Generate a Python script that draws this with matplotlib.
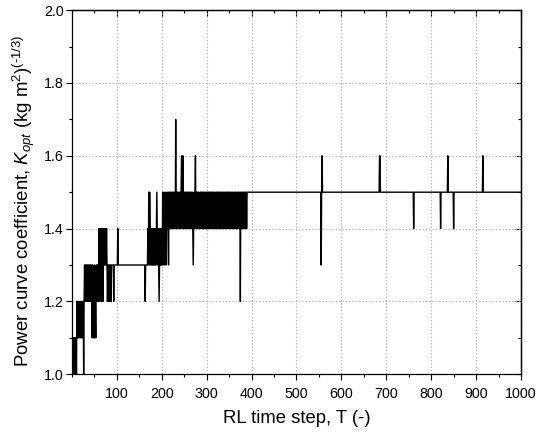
import numpy as np
import matplotlib
matplotlib.use("Agg")
import matplotlib.pyplot as plt
from matplotlib.ticker import MultipleLocator, FixedLocator

plt.rcParams["font.family"] = ["Liberation Sans", "DejaVu Sans"]
plt.rcParams["mathtext.fontset"] = "custom"
plt.rcParams["mathtext.rm"] = "Liberation Sans"
plt.rcParams["mathtext.it"] = "Liberation Sans:italic"

# K_opt per RL time step during learning, written as tenths above 1.0
# (one digit per step, steps 1..400)
k_early = (
    "0101101010" "2121212121" "2121202323" "2323232323"
    "2323131213" "1213232324" "2434243423" "4343434323"
    "2323232333" "3323333333" "3433333333" "3333333333"
    "3333333333" "3333333333" "3333333333" "3333333333"
    "3323333343" "5354343434" "3434343454" "3432343434"
    "3543543543" "4545354545" "4545454544" "7454545454"
    "5456546545" "4545454545" "4545454543" "4545645454"
    "5454455454" "5454545445" "4545454554" "5454545454"
    "4554545454" "5454545445" "4545454554" "5454545454"
    "4545544545" "4545254545" "4545454545" "5555555555"
)
# converged value afterwards, with occasional exploratory deviations
k_final = 1.5
n_steps = 1000
late_deviations = {555: 1.3, 557: 1.6, 685: 1.6, 686: 1.6,
                   761: 1.4, 821: 1.4, 837: 1.6, 850: 1.4, 915: 1.6}

x_ticks = [100, 200, 300, 400, 500, 600, 700, 800, 900, 1000]
y_ticks = [1.0, 1.2, 1.4, 1.6, 1.8, 2.0]

steps = np.arange(1, n_steps + 1)
k_opt = np.full(n_steps, k_final)
k_opt[:len(k_early)] = [1.0 + int(c) / 10 for c in k_early]
for t, v in late_deviations.items():
    k_opt[t - 1] = v

fig = plt.figure(figsize=(5.55, 4.37), dpi=100)
ax = fig.add_axes([0.1297, 0.1437, 0.8090, 0.8330])

ax.plot(steps, k_opt, color="black", lw=1.0)

ax.set_xlim(0, 1000)
ax.set_ylim(1.0, 2.0)
ax.xaxis.set_major_locator(FixedLocator(x_ticks))
ax.xaxis.set_minor_locator(MultipleLocator(50))
ax.yaxis.set_major_locator(FixedLocator(y_ticks))
ax.yaxis.set_minor_locator(MultipleLocator(0.1))
ax.set_yticklabels([f"{v:.1f}" for v in y_ticks])

ax.grid(True, which="major", color="#a8a8a8", linestyle=(0, (1, 2)), lw=0.8)
ax.set_axisbelow(True)

for s in ax.spines.values():
    s.set_linewidth(0.9)

ax.tick_params(which="major", direction="out", length=4, width=0.8,
               labelsize=10.3, colors="black", pad=2)
ax.tick_params(which="minor", direction="out", length=2.3, width=0.8)
ax.tick_params(axis="x", which="major", pad=5)

top = ax.secondary_xaxis("top")
top.xaxis.set_major_locator(FixedLocator(x_ticks))
top.xaxis.set_minor_locator(MultipleLocator(50))
top.tick_params(which="major", direction="in", length=4, width=0.8, labeltop=False)
top.tick_params(which="minor", direction="in", length=2.3, width=0.8)
top.spines["top"].set_linewidth(0.9)

right = ax.secondary_yaxis("right")
right.yaxis.set_major_locator(FixedLocator(y_ticks))
right.yaxis.set_minor_locator(MultipleLocator(0.1))
right.tick_params(which="major", direction="in", length=4, width=0.8, labelright=False)
right.tick_params(which="minor", direction="in", length=2.3, width=0.8)
right.spines["right"].set_linewidth(0.9)

ax.set_xlabel("RL time step, T (-)", fontsize=13.3, labelpad=7)
ax.set_ylabel(r"Power curve coefficient, $K_{opt}$ (kg m$^2$)$^{(\text{-}1/3)}$",
              fontsize=13.4)
ax.yaxis.set_label_coords(-0.078, 0.476)

fig.savefig("out.png", dpi=100)
